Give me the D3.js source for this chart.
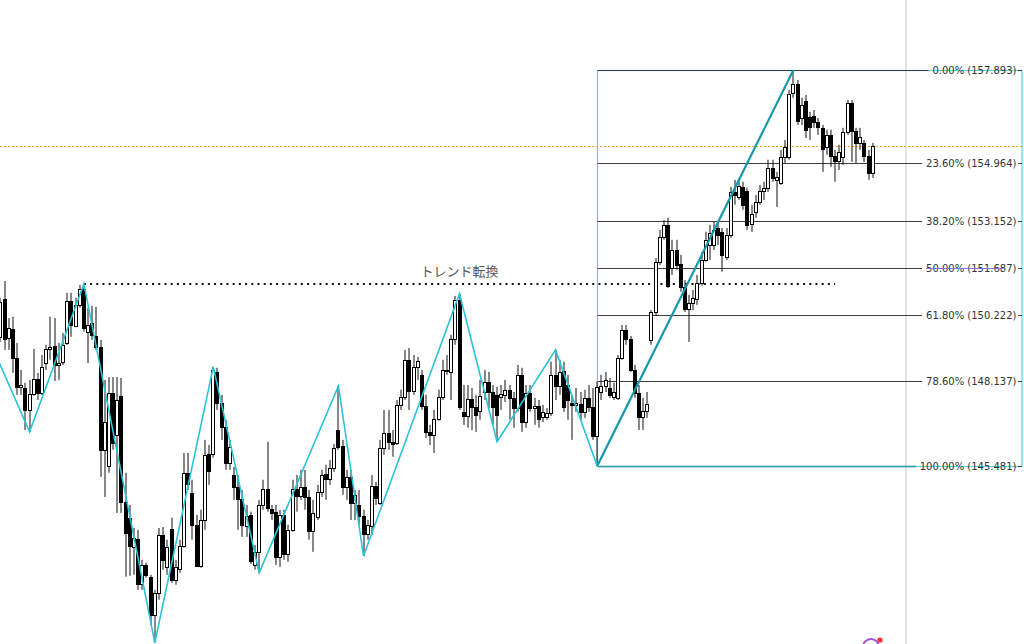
<!DOCTYPE html>
<html>
<head>
<meta charset="utf-8">
<script src="https://cdn.jsdelivr.net/npm/d3@7"></script>
<style>
  html, body { margin: 0; padding: 0; background: #fff; overflow: hidden; }
  svg { display: block; }
</style>
</head>
<body>
<div id="chart"></div>
<script>
// candles, oldest first
var opens = [
  149.53, 150.72, 149.50, 149.78, 148.87, 147.96, 147.93, 147.24, 147.74, 148.21,
  147.77, 148.71, 149.15, 149.25, 148.65, 148.75, 149.34, 150.66, 149.87, 150.53,
  151.03, 149.69, 149.97, 149.56, 149.22, 145.99, 145.49, 147.77, 146.46, 147.68,
  144.36, 143.86, 142.95, 143.20, 141.79, 142.38, 142.01, 140.82, 141.51, 143.32,
  142.32, 143.51, 141.91, 142.26, 142.98, 145.27, 144.64, 143.64, 142.35, 143.79,
  145.86, 145.86, 148.43, 147.46, 146.71, 145.58, 145.20, 144.83, 144.45, 143.61,
  143.95, 142.38, 142.79, 144.26, 144.77, 144.14, 144.05, 142.63, 143.95, 142.73,
  143.48, 144.77, 144.55, 144.83, 144.51, 143.45, 143.89, 144.67, 145.23, 145.08,
  145.42, 146.61, 146.11, 144.83, 145.14, 144.33, 144.26, 143.92, 143.35, 143.61,
  144.86, 144.33, 146.05, 146.52, 146.24, 146.21, 147.40, 147.65, 148.81, 147.84,
  148.59, 148.34, 147.37, 146.55, 146.46, 146.96, 147.65, 148.46, 148.43, 149.47,
  150.69, 147.18, 147.05, 147.59, 147.33, 147.21, 147.80, 148.12, 147.80, 147.71,
  147.65, 147.71, 147.87, 147.62, 147.30, 148.34, 146.86, 147.77, 147.30, 147.37,
  147.02, 147.02, 147.15, 148.34, 147.99, 148.46, 148.02, 147.46, 147.40, 147.43,
  147.18, 147.62, 147.33, 146.42, 147.80, 147.99, 147.93, 147.65, 147.62, 148.87,
  149.75, 149.47, 148.49, 147.77, 147.02, 147.21, 149.43, 150.31, 151.88, 152.66,
  153.04, 151.69, 152.25, 151.82, 151.10, 150.41, 150.59, 150.72, 151.22, 151.94,
  152.41, 152.41, 152.94, 152.82, 152.04, 152.72, 154.07, 153.92, 154.23, 154.10,
  153.07, 153.45, 153.76, 154.10, 154.20, 154.83, 154.45, 154.36, 155.17, 155.17,
  157.18, 157.46, 156.39, 156.92, 156.42, 156.45, 156.27, 156.08, 155.48, 155.86,
  155.20, 155.04, 155.17, 155.95, 156.86, 155.98, 155.61, 155.61, 155.20, 154.67
];
var highs = [
  150.75, 151.28, 150.12, 150.16, 149.34, 148.49, 148.09, 148.18, 149.15, 148.40,
  148.96, 149.28, 150.16, 150.12, 149.34, 149.65, 150.91, 150.91, 150.75, 151.16,
  151.19, 150.44, 150.50, 150.47, 149.43, 148.18, 148.27, 148.27, 148.27, 148.24,
  145.27, 144.26, 143.54, 143.48, 142.54, 142.45, 142.07, 141.60, 143.54, 143.57,
  143.17, 143.86, 142.54, 143.17, 145.89, 145.89, 145.05, 143.95, 144.11, 146.30,
  146.14, 148.59, 148.56, 147.71, 146.93, 146.30, 145.45, 145.20, 144.73, 144.26,
  144.05, 143.01, 144.42, 145.05, 146.24, 144.26, 144.26, 144.11, 144.11, 143.64,
  145.05, 145.20, 145.36, 145.36, 144.73, 144.42, 144.89, 145.36, 145.52, 145.67,
  146.17, 147.99, 146.30, 145.36, 145.36, 144.73, 144.73, 144.11, 143.79, 145.20,
  144.98, 146.30, 147.24, 147.24, 146.61, 147.55, 147.87, 149.12, 149.18, 148.96,
  148.90, 148.49, 147.71, 146.77, 147.24, 147.87, 148.81, 148.96, 149.59, 150.81,
  150.88, 148.02, 148.02, 147.93, 147.71, 148.18, 148.49, 148.43, 148.02, 147.96,
  148.02, 148.18, 148.02, 147.80, 148.65, 148.56, 148.02, 148.02, 147.62, 147.55,
  147.40, 147.30, 148.75, 149.12, 148.81, 148.75, 148.34, 147.71, 147.93, 147.80,
  147.87, 148.02, 147.93, 148.12, 148.34, 148.43, 148.24, 148.09, 148.96, 149.90,
  149.90, 149.56, 148.65, 148.02, 147.62, 147.80, 150.37, 152.00, 152.88, 153.19,
  153.26, 152.57, 152.57, 152.10, 151.31, 150.85, 151.00, 151.47, 152.19, 152.82,
  153.04, 153.13, 153.13, 152.94, 152.94, 154.23, 154.45, 154.45, 154.39, 154.20,
  153.67, 153.98, 154.29, 154.39, 155.08, 155.08, 154.70, 155.39, 155.70, 157.27,
  157.893, 157.58, 157.02, 157.11, 156.58, 156.64, 156.39, 156.17, 156.02, 156.02,
  155.39, 155.55, 156.08, 156.95, 156.95, 156.08, 156.08, 155.70, 155.39, 155.61
];
var lows = [
  149.37, 149.12, 149.12, 148.40, 147.71, 147.71, 146.61, 146.55, 147.68, 147.55,
  147.71, 148.49, 148.81, 148.15, 148.18, 148.65, 149.28, 149.53, 149.84, 150.44,
  149.69, 148.71, 149.43, 149.12, 145.14, 144.51, 145.27, 145.99, 144.01, 144.01,
  142.01, 142.04, 142.07, 141.60, 141.60, 141.98, 140.50, 139.94, 141.29, 142.23,
  142.07, 141.82, 141.76, 142.13, 142.92, 144.73, 143.17, 142.32, 142.29, 143.48,
  144.89, 145.74, 147.24, 146.30, 145.36, 145.36, 144.42, 143.48, 143.26, 143.26,
  142.41, 142.23, 142.13, 144.11, 144.05, 143.79, 142.38, 142.32, 142.54, 142.48,
  143.42, 144.05, 144.42, 144.11, 143.17, 142.79, 143.79, 144.51, 144.42, 144.89,
  145.30, 145.99, 144.58, 144.42, 143.79, 143.79, 143.64, 142.66, 143.17, 143.32,
  144.26, 144.26, 145.83, 145.99, 145.77, 146.14, 147.24, 147.55, 147.24, 147.71,
  148.18, 147.24, 146.36, 146.14, 145.89, 146.90, 147.55, 148.34, 147.55, 149.28,
  147.24, 146.77, 146.68, 146.61, 146.55, 146.93, 147.55, 147.30, 146.77, 146.24,
  147.24, 147.49, 146.93, 146.68, 147.18, 146.55, 146.68, 147.18, 146.77, 146.68,
  146.86, 146.93, 147.05, 147.55, 147.71, 147.18, 146.93, 146.30, 147.18, 146.93,
  146.99, 147.18, 146.30, 145.481, 147.55, 147.80, 147.62, 147.55, 147.55, 148.81,
  149.28, 148.43, 147.62, 146.61, 146.61, 146.99, 149.28, 150.22, 151.78, 152.57,
  151.06, 151.47, 151.63, 150.94, 150.31, 149.37, 150.37, 150.53, 151.13, 151.88,
  151.94, 152.25, 152.41, 151.57, 151.94, 152.63, 153.67, 153.82, 153.51, 152.88,
  152.82, 153.26, 153.67, 153.82, 154.07, 154.39, 153.60, 154.29, 154.98, 155.08,
  157.02, 156.17, 156.17, 155.76, 155.70, 156.08, 155.86, 154.70, 155.23, 154.86,
  154.39, 154.76, 154.92, 155.86, 155.01, 154.98, 155.39, 155.01, 154.45, 154.51
];
var closes = [
  150.63, 149.47, 149.81, 148.87, 147.96, 148.02, 147.24, 147.74, 148.21, 147.77,
  148.59, 149.15, 149.22, 148.65, 148.71, 149.28, 150.66, 149.90, 150.53, 151.03,
  149.81, 149.90, 149.59, 149.22, 145.99, 146.86, 147.77, 146.21, 147.55, 144.36,
  143.39, 142.98, 143.23, 141.79, 142.38, 142.07, 140.82, 141.51, 143.32, 142.54,
  142.95, 141.91, 142.32, 142.98, 145.27, 144.92, 143.64, 142.35, 143.79, 145.83,
  145.33, 148.49, 147.46, 146.71, 145.58, 146.08, 144.83, 144.45, 143.64, 143.92,
  142.51, 142.79, 144.26, 144.77, 144.17, 144.01, 142.63, 143.95, 142.73, 143.48,
  144.77, 144.55, 144.83, 144.51, 143.45, 144.01, 144.67, 145.20, 145.08, 145.42,
  146.05, 146.08, 144.83, 145.14, 144.33, 144.58, 143.92, 143.35, 143.64, 144.86,
  144.48, 146.05, 146.52, 146.24, 146.17, 147.40, 147.65, 148.81, 147.84, 148.59,
  148.78, 147.37, 146.55, 146.46, 146.96, 147.65, 148.49, 148.49, 149.47, 150.69,
  147.33, 147.05, 147.59, 147.33, 147.08, 147.68, 148.12, 147.80, 147.33, 147.08,
  147.74, 147.87, 147.62, 147.30, 148.34, 146.86, 147.77, 147.30, 147.37, 146.96,
  147.18, 147.15, 148.34, 147.99, 148.43, 147.33, 147.55, 147.40, 147.46, 147.18,
  147.62, 147.33, 146.42, 147.96, 147.99, 148.18, 147.71, 147.80, 148.87, 149.75,
  149.47, 148.49, 147.77, 147.02, 147.21, 147.43, 150.31, 151.88, 152.66, 153.04,
  151.13, 152.25, 151.78, 151.10, 150.41, 150.59, 150.75, 151.22, 151.94, 152.57,
  152.79, 152.88, 152.72, 152.10, 152.72, 154.07, 153.98, 154.26, 153.67, 153.04,
  153.38, 153.76, 154.10, 154.20, 154.83, 154.51, 154.54, 155.17, 155.48, 157.14,
  157.46, 156.30, 156.80, 156.02, 156.11, 156.27, 156.11, 155.42, 155.86, 155.20,
  155.04, 155.33, 155.95, 156.86, 155.98, 155.61, 155.80, 155.20, 154.67, 155.51
];

// zigzag pivots (candle index, price); the first one sits off the left edge
var zigzagIdx = [-3, 7, 20, 37, 51, 62, 81, 87, 110, 119, 133, 143];
var zigzagPrice = [149.53, 146.55, 151.19, 139.94, 148.59, 142.13, 147.99, 142.66, 150.88, 146.24, 149.12, 145.481];

// fibonacci retracement anchors: swing low -> swing high
var fibIdx = [143, 190];
var fibPrice = [145.481, 157.893];
var fibLevels = [0, 0.236, 0.382, 0.5, 0.618, 0.786, 1];

// "trend change" line
var trendIdx = [20, 200];
var trendPrice = 151.17;
var trendLabel = 'トレンド転換';

var width = 1024, height = 644;
var boxRight = 1022, labelRight = 1016.5, sepX = 906;

var x = d3.scaleLinear().domain([0, opens.length - 1]).range([0.4, 872.7]);
var y = d3.scaleLinear().domain([fibPrice[0], fibPrice[1]]).range([466, 70]);

var svg = d3.select('#chart').append('svg')
    .attr('width', width)
    .attr('height', height);

svg.append('defs').append('clipPath').attr('id', 'clip')
    .append('rect').attr('width', width).attr('height', height);

var g = svg.append('g').attr('clip-path', 'url(#clip)');

function crisp(v) { return Math.round(v) + 0.5; }

// separator line of the price pane
g.append('line')
    .attr('x1', sepX).attr('x2', sepX)
    .attr('y1', 0).attr('y2', height)
    .style('stroke', '#dadada').style('stroke-width', 1.5);

// current price
g.append('line')
    .attr('x1', 0).attr('x2', width)
    .attr('y1', crisp(y(closes[closes.length - 1])))
    .attr('y2', crisp(y(closes[closes.length - 1])))
    .style('stroke', '#f5a11c').style('stroke-width', 1)
    .style('stroke-dasharray', '2,2');

// fibonacci box
var fx0 = crisp(x(fibIdx[0]));
g.append('rect')
    .attr('x', fx0).attr('y', crisp(y(fibPrice[1])))
    .attr('width', boxRight - fx0)
    .attr('height', crisp(y(fibPrice[0])) - crisp(y(fibPrice[1])))
    .style('fill', 'none').style('stroke', '#5fd0e2').style('stroke-width', 1.2);

var range = fibPrice[1] - fibPrice[0];
fibLevels.forEach(function (lvl) {
    var price = fibPrice[1] - lvl * range;
    var yy = crisp(y(price));
    var lineColor = lvl === 1 ? '#2f98a6' : '#3d3d3d';
    var label = (lvl * 100).toFixed(2) + '% (' + price.toFixed(3) + ')';
    var t = g.append('text')
        .attr('x', labelRight).attr('y', yy)
        .attr('text-anchor', 'end')
        .attr('dominant-baseline', 'central')
        .style('font-family', 'DejaVu Sans, sans-serif')
        .style('font-size', '10px')
        .style('fill', '#333')
        .text(label);
    var tw = t.node().getComputedTextLength();
    var start = labelRight - tw;
    g.insert('line', 'text')
        .attr('x1', fx0).attr('x2', start - 4)
        .attr('y1', yy).attr('y2', yy)
        .style('stroke', lineColor).style('stroke-width', lvl === 1 ? 1.6 : 1);
    g.insert('line', 'text')
        .attr('x1', labelRight + 1.5).attr('x2', boxRight)
        .attr('y1', yy).attr('y2', yy)
        .style('stroke', '#3d3d3d').style('stroke-width', 1);
    if (lvl === 0.5) {
        g.append('line')
            .attr('x1', start).attr('x2', labelRight - 13)
            .attr('y1', yy).attr('y2', yy)
            .style('stroke', '#8f72dc').style('stroke-width', 1);
    }
});

// trend change dotted line + label
g.append('line')
    .attr('x1', x(trendIdx[0])).attr('x2', x(trendIdx[1]))
    .attr('y1', Math.round(y(trendPrice))).attr('y2', Math.round(y(trendPrice)))
    .style('stroke', '#111').style('stroke-width', 2)
    .style('stroke-dasharray', '2,4.2');

g.append('text')
    .attr('x', (x(trendIdx[0]) + x(trendIdx[1])) / 2)
    .attr('y', y(trendPrice) - 8)
    .attr('text-anchor', 'middle')
    .style('font-family', '"Noto Sans CJK JP", sans-serif')
    .style('font-size', '13px')
    .style('fill', '#555')
    .text(trendLabel);

// candles
var candles = g.append('g').selectAll('g')
    .data(opens.map(function (o, i) {
        return {i: i, o: o, h: highs[i], l: lows[i], c: closes[i]};
    }))
    .enter().append('g');

candles.append('line')
    .attr('x1', function (d) { return Math.round(x(d.i)); })
    .attr('x2', function (d) { return Math.round(x(d.i)); })
    .attr('y1', function (d) { return y(d.h); })
    .attr('y2', function (d) { return y(d.l); })
    .style('stroke', '#111').style('stroke-width', 1);

candles.append('rect')
    .attr('x', function (d) { return Math.round(x(d.i)) - 1.5; })
    .attr('width', 3)
    .attr('y', function (d) { return crisp(y(Math.max(d.o, d.c))); })
    .attr('height', function (d) {
        return Math.max(1, crisp(y(Math.min(d.o, d.c))) - crisp(y(Math.max(d.o, d.c))));
    })
    .style('fill', function (d) { return d.c >= d.o ? '#fff' : '#000'; })
    .style('stroke', '#000').style('stroke-width', 1);

// zigzag
var zz = zigzagIdx.map(function (d, i) { return [x(d), y(zigzagPrice[i])]; });
g.append('path')
    .attr('d', d3.line()(zz))
    .style('fill', 'none').style('stroke', '#2cc3da').style('stroke-width', 1.6);

// fibonacci trend line
g.append('line')
    .attr('x1', x(fibIdx[0])).attr('y1', y(fibPrice[0]))
    .attr('x2', x(fibIdx[1])).attr('y2', y(fibPrice[1]))
    .style('stroke', '#1598ab').style('stroke-width', 2.2);

// corner logo
g.append('circle')
    .attr('cx', 871).attr('cy', 647).attr('r', 8)
    .style('fill', 'none').style('stroke', '#a24fd6').style('stroke-width', 2);
g.append('circle')
    .attr('cx', 880).attr('cy', 640).attr('r', 2.6)
    .style('fill', '#ff3030');
</script>
</body>
</html>
